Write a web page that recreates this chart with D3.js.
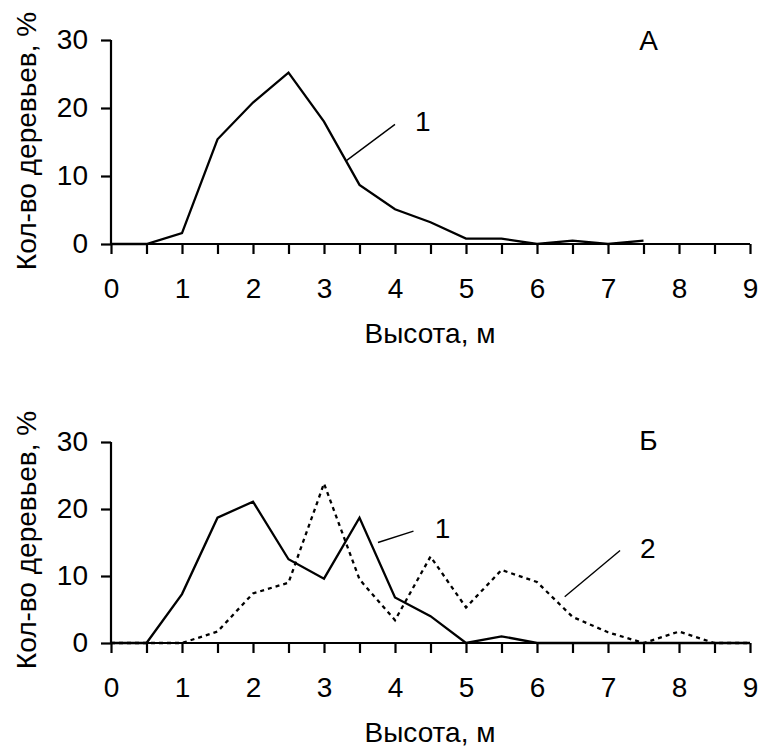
<!DOCTYPE html>
<html>
<head>
<meta charset="utf-8">
<script src="https://cdn.jsdelivr.net/npm/d3@7"></script>
<style>
  body { margin: 0; background: #fff; }
  svg text { font-family: "Liberation Sans", Arial, sans-serif; fill: #000; }
</style>
</head>
<body>
<svg id="chart" width="760" height="747"></svg>
<script>
// ---- data ----
const heightsA = [0,0.5,1,1.5,2,2.5,3,3.5,4,4.5,5,5.5,6,6.5,7,7.5];
const seriesA1 = [0,0,1.6,15.4,20.8,25.2,18.0,8.7,5.1,3.2,0.8,0.8,0,0.5,0,0.5];

const heightsB = [0,0.5,1,1.5,2,2.5,3,3.5,4,4.5,5,5.5,6,6.5,7,7.5,8,8.5,9];
const seriesB1 = [0,0,7.3,18.7,21.1,12.5,9.6,18.7,6.8,4.0,0,1.0,0,0,0,0,0,0,0];
const seriesB2 = [0,0,0,1.7,7.4,9.0,23.8,9.5,3.4,12.9,5.3,10.9,9.1,3.9,1.6,0,1.7,0,0];

const yTicks = [0,10,20,30];
const xTicks = [0,0.5,1,1.5,2,2.5,3,3.5,4,4.5,5,5.5,6,6.5,7,7.5,8,8.5,9];
const xTitle = "Высота, м";
const yTitle = "Кол-во деревьев, %";
const panelLabels = ["А","Б"];

// annotation leaders in data units: [x1,y1,x2,y2], label pos [x,y], text
const calloutsA = [{line:[3.32,12.3,4.0,17.6], pos:[4.28,16.6], text:"1"}];
const calloutsB = [
  {line:[3.76,15.0,4.26,16.7], pos:[4.56,15.7], text:"1"},
  {line:[6.39,6.9,7.17,13.8], pos:[7.45,12.7], text:"2"}
];

// ---- drawing ----
const svg = d3.select("#chart");
const FS = 28;

function panel(opts) {
  const g = svg.append("g");
  const x = d3.scaleLinear().domain([0,9]).range([111,750]);
  const y = d3.scaleLinear().domain([0,30]).range([opts.y0, opts.y30]);

  const yAxis = d3.axisLeft(y).tickValues(yTicks).tickSize(10).tickSizeOuter(0).tickPadding(13);
  const xAxis = d3.axisBottom(x).tickValues(xTicks).tickSize(10).tickSizeOuter(0).tickPadding(24)
      .tickFormat(d => Number.isInteger(d) ? String(d) : "");

  const ya = g.append("g").attr("transform", `translate(${x(0)},0)`).call(yAxis);
  const xa = g.append("g").attr("transform", `translate(0,${y(0)})`).call(xAxis);
  [ya, xa].forEach(a => {
    a.selectAll("path.domain").attr("stroke","#000").attr("stroke-width",2.2);
    a.selectAll(".tick line").attr("stroke","#000").attr("stroke-width",2.2);
    a.selectAll(".tick text").attr("font-size",FS).attr("font-family","'Liberation Sans', Arial, sans-serif").attr("fill","#000");
  });
  ya.selectAll("path.domain").attr("d", `M0,${y(0)}V${y(30)}`);
  xa.selectAll("path.domain").attr("d", `M${x(0)},0H${x(9)}`);

  const line = d3.line().x(d => x(d[0])).y(d => y(d[1]));
  opts.series.forEach(s => {
    g.append("path")
      .datum(s.xs.map((h,i) => [h, s.vals[i]]))
      .attr("d", line)
      .attr("fill","none")
      .attr("stroke","#000")
      .attr("stroke-width", 2.3)
      .attr("stroke-linejoin","miter")
      .attr("stroke-dasharray", s.dash || null);
  });

  opts.callouts.forEach(c => {
    g.append("line")
      .attr("x1", x(c.line[0])).attr("y1", y(c.line[1]))
      .attr("x2", x(c.line[2])).attr("y2", y(c.line[3]))
      .attr("stroke","#000").attr("stroke-width",1.4);
    g.append("text").attr("x", x(c.pos[0])).attr("y", y(c.pos[1]))
      .attr("font-size", FS).text(c.text);
  });

  g.append("text").attr("x", x(7.57)).attr("y", y(opts.labelY))
    .attr("text-anchor","middle").attr("font-size", FS).text(opts.label);

  g.append("text").attr("x", 430).attr("y", opts.y0 + 99)
    .attr("text-anchor","middle").attr("font-size", FS).text(xTitle);

  g.append("text")
    .attr("transform", `translate(36,${opts.y0 - 103}) rotate(-90)`)
    .attr("text-anchor","middle").attr("font-size", FS).text(yTitle);
}

panel({y0:244, y30:40, label:panelLabels[0], labelY:28.6,
  series:[{xs:heightsA, vals:seriesA1}], callouts:calloutsA});
panel({y0:643, y30:442, label:panelLabels[1], labelY:28.8,
  series:[{xs:heightsB, vals:seriesB1}, {xs:heightsB, vals:seriesB2, dash:"4,4"}], callouts:calloutsB});
</script>
</body>
</html>
